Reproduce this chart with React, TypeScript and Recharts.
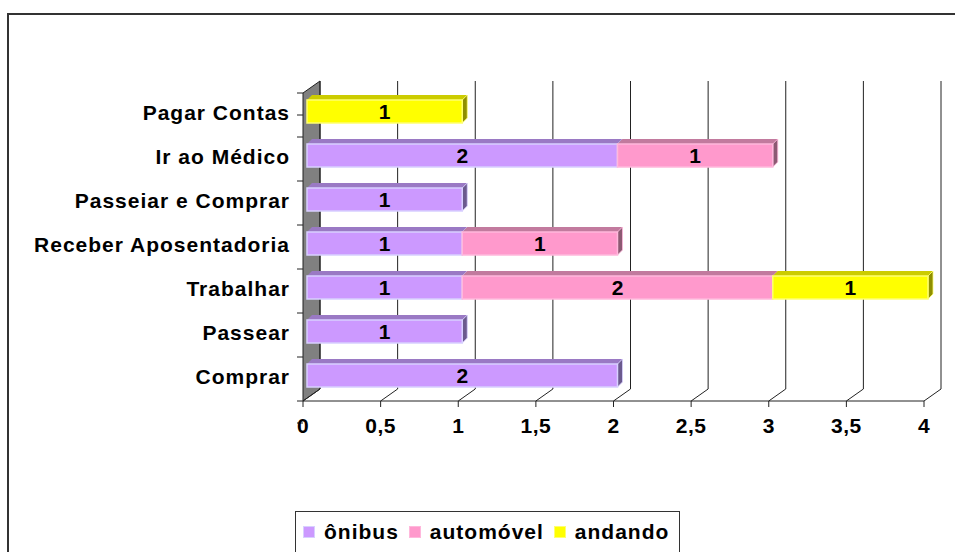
import React from 'react';
import { BarChart, Bar, XAxis, YAxis, CartesianGrid, Legend, LabelList } from 'recharts';

const categories = [
  'Pagar Contas',
  'Ir ao Médico',
  'Passeiar e Comprar',
  'Receber Aposentadoria',
  'Trabalhar',
  'Passear',
  'Comprar',
];
const onibus = [0, 2, 1, 1, 1, 1, 2];
const automovel = [0, 1, 0, 1, 2, 0, 0];
const andando = [1, 0, 0, 0, 1, 0, 0];
const xTicks = [0, 0.5, 1, 1.5, 2, 2.5, 3, 3.5, 4];

const data = categories.map((name, i) => ({
  name,
  onibus: onibus[i],
  automovel: automovel[i],
  andando: andando[i],
}));

const FONT = '"Liberation Sans", Arial, sans-serif';
const W = 955;
const H = 552;
const TOP = 89;
const BOTTOM = 397;
const LEFT = 307;
const BAND = (BOTTOM - TOP) / categories.length;
// depth offsets relative to the bar plane
const FX = -4, FY = 4; // front plane
const BX = 13, BY = -8; // back wall
const DEPTH = 5;

const palette: Record<string, { front: string; top: string; side: string; edge: string }> = {
  onibus: { front: '#CC99FF', top: '#9A79C4', side: '#6B5A8E', edge: '#D8D0FF' },
  automovel: { front: '#FF99CC', top: '#C27A9E', side: '#8C5A73', edge: '#FFB8DC' },
  andando: { front: '#FFFF00', top: '#CCCC00', side: '#8F8F00', edge: '#FFFF70' },
};

const makeShape = (key: string) => (props: any) => {
  const { x, y, width, height } = props;
  if (!width || width <= 0) return <g />;
  const c = palette[key];
  const d = DEPTH;
  return (
    <g>
      <polygon
        points={`${x},${y} ${x + d},${y - d} ${x + width + d},${y - d} ${x + width},${y}`}
        fill={c.top}
      />
      <polygon
        points={`${x + width},${y} ${x + width + d},${y - d} ${x + width + d},${y + height - d} ${x + width},${y + height}`}
        fill={c.side}
        stroke={c.edge}
        strokeWidth={0.8}
      />
      <rect x={x} y={y} width={width} height={height} fill={c.front} stroke={c.edge} strokeWidth={1.5} />
    </g>
  );
};

const valueLabel = (props: any) => {
  const { x, y, width, height, value } = props;
  if (!value) return null;
  return (
    <text
      x={x + width / 2}
      y={y + height / 2 + 7.5}
      textAnchor="middle"
      fontFamily={FONT}
      fontWeight="bold"
      fontSize={21}
      fill="#000"
    >
      {value}
    </text>
  );
};

const VerticalLine = (props: any) => {
  const { x1, y1, y2, index } = props;
  return (
    <g>
      {index === 0 && (
        <polygon
          points={`${x1 + FX},${y1 + FY} ${x1 + BX},${y1 + BY} ${x1 + BX},${y2 + BY} ${x1 + FX},${y2 + FY}`}
          fill="#808080"
          stroke="#222"
          strokeWidth={1}
        />
      )}
      <line x1={x1 + BX} y1={y1 + BY} x2={x1 + BX} y2={y2 + BY} stroke="#222" strokeWidth={1} />
      <line x1={x1 + BX} y1={y2 + BY} x2={x1 + FX} y2={y2 + FY} stroke="#222" strokeWidth={1} />
      <line x1={x1 + FX} y1={y2 + FY} x2={x1 + FX} y2={y2 + FY + 6} stroke="#222" strokeWidth={1} />
    </g>
  );
};

const HorizontalLine = (props: any) => {
  const { x1, x2, y1, index } = props;
  const lx = x1 + FX;
  return (
    <g>
      {index === 0 && (
        <>
          <line x1={lx} y1={BOTTOM + FY} x2={x2 + FX} y2={BOTTOM + FY} stroke="#222" strokeWidth={1} />
          <line x1={lx - 6} y1={y1 - BAND / 2 + FY} x2={lx} y2={y1 - BAND / 2 + FY} stroke="#222" strokeWidth={1} />
        </>
      )}
      <line x1={lx - 6} y1={y1 + BAND / 2 + FY} x2={lx} y2={y1 + BAND / 2 + FY} stroke="#222" strokeWidth={1} />
    </g>
  );
};

const XTick = (props: any) => {
  const { x, payload } = props;
  return (
    <text
      x={x + FX}
      y={BOTTOM + FY + 32}
      textAnchor="middle"
      fontFamily={FONT}
      fontWeight="bold"
      fontSize={21}
      letterSpacing={0.5}
      fill="#000"
    >
      {String(payload.value).replace('.', ',')}
    </text>
  );
};

const YTick = (props: any) => {
  const { x, y, payload } = props;
  return (
    <text
      x={x}
      y={y + 8.5}
      textAnchor="end"
      fontFamily={FONT}
      fontWeight="bold"
      fontSize={21}
      letterSpacing={1}
      fill="#000"
    >
      {payload.value}
    </text>
  );
};

const legendItems = [
  { key: 'onibus', label: 'ônibus' },
  { key: 'automovel', label: 'automóvel' },
  { key: 'andando', label: 'andando' },
];

const LegendBox = () => (
  <div
    style={{
      boxSizing: 'border-box',
      width: 385,
      height: 60,
      border: '1.5px solid #333',
      background: '#fff',
      display: 'flex',
      alignItems: 'flex-start',
      paddingTop: 8,
      paddingLeft: 7,
      fontFamily: FONT,
      fontWeight: 'bold',
      fontSize: 21,
      letterSpacing: 1,
      color: '#000',
    }}
  >
    {legendItems.map((it) => (
      <span key={it.key} style={{ display: 'flex', alignItems: 'center', marginRight: 10 }}>
        <span
          style={{
            display: 'inline-block',
            width: 10,
            height: 10,
            background: palette[it.key].front,
            border: `1px solid ${palette[it.key].edge}`,
            marginRight: 9,
          }}
        />
        {it.label}
      </span>
    ))}
  </div>
);

export default function App() {
  return (
    <div style={{ position: 'relative', width: W, height: H, background: '#fff' }}>
      <style>{`body{margin:0;overflow:hidden;}`}</style>
      <div
        style={{
          position: 'absolute',
          left: 7,
          top: 13,
          width: W - 7,
          height: H - 13,
          borderTop: '2px solid #333',
          borderLeft: '2px solid #333',
          boxSizing: 'border-box',
        }}
      />
      <div style={{ position: 'absolute', left: 0, top: 0 }}>
        <BarChart
          width={W}
          height={H}
          data={data}
          layout="vertical"
          margin={{ top: TOP, right: W - 928, bottom: 95, left: 0 }}
          barSize={23}
        >
          <CartesianGrid
            stroke="#222"
            vertical={VerticalLine}
            horizontal={HorizontalLine}
          />
          <XAxis
            type="number"
            domain={[0, 4]}
            ticks={xTicks}
            axisLine={false}
            tickLine={false}
            height={60}
            tick={XTick}
            interval={0}
          />
          <YAxis
            type="category"
            dataKey="name"
            width={LEFT}
            axisLine={false}
            tickLine={false}
            tickSize={6}
            tickMargin={11}
            tick={YTick}
            interval={0}
          />
          <Legend
            layout="horizontal"
            verticalAlign="middle"
            align="center"
            wrapperStyle={{ position: 'absolute', left: 295, top: 511, width: 385 }}
            content={LegendBox}
          />
          <Bar dataKey="onibus" name="ônibus" stackId="a" isAnimationActive={false} shape={makeShape('onibus')}>
            <LabelList dataKey="onibus" content={valueLabel} />
          </Bar>
          <Bar dataKey="automovel" name="automóvel" stackId="a" isAnimationActive={false} shape={makeShape('automovel')}>
            <LabelList dataKey="automovel" content={valueLabel} />
          </Bar>
          <Bar dataKey="andando" name="andando" stackId="a" isAnimationActive={false} shape={makeShape('andando')}>
            <LabelList dataKey="andando" content={valueLabel} />
          </Bar>
        </BarChart>
      </div>
    </div>
  );
}
